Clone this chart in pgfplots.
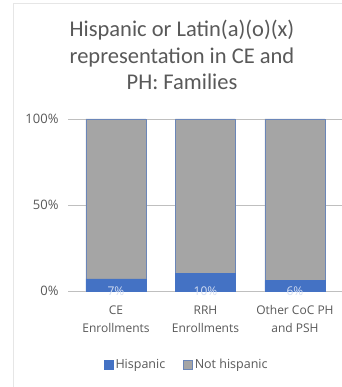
\documentclass[border=0pt]{standalone}
\usepackage{pgfplots}
\pgfplotsset{compat=1.18}
\usepackage{fontspec}
\setmainfont{Open Sans}
\newfontfamily\titlefont{Carlito}
\definecolor{hblue}{HTML}{4472C4}
\definecolor{hgray}{HTML}{A5A5A5}
\definecolor{txt}{HTML}{595959}
\definecolor{grid}{HTML}{D9D9D9}
\definecolor{frame}{HTML}{E6E6E6}
\definecolor{lbl}{HTML}{D4DEF2}
\begin{document}
\begin{tikzpicture}
\fill[white] (0,0) rectangle (341pt,387pt);
\draw[frame, line width=0.8pt] (13pt,-5pt) rectangle (352pt,384pt);
\begin{scope}[every node/.style={font=\titlefont\fontsize{22.5}{26.5}\selectfont, text=txt, anchor=base, inner sep=0pt}]
\node at (182pt,350pt) {Hispanic or Latin(a)(o)(x)};
\node at (182pt,323.5pt) {representation in CE and};
\node at (182pt,297pt) {PH: Families};
\end{scope}
\begin{axis}[
  at={(68pt,96pt)}, anchor=south west,
  scale only axis, width=275pt, height=172pt,
  ybar stacked, bar width=60pt,
  xmin=-0.536, xmax=2.537, ymin=0, ymax=100,
  clip=false,
  axis line style={draw=none},
  ymajorgrids, grid style={grid, line width=0.6pt},
  ytick={0,50,100}, yticklabels={0\%,50\%,100\%},
  xtick={0,1,2},
  xticklabels={CE\\Enrollments, RRH\\Enrollments, Other CoC PH\\and PSH},
  major tick length=0pt,
  /pgf/number format/assume math mode=true,
  tick label style={font=\fontsize{12}{18}\selectfont, text=txt},
  xticklabel style={align=center, yshift=-11pt},
  yticklabel style={xshift=-6pt, font=\fontsize{13}{15}\selectfont},
  legend columns=2,
  legend style={at={(0.432,-0.43)}, anchor=center, draw=none, fill=none,
    font=\fontsize{12.5}{14}\selectfont, text=txt,
    /tikz/every even column/.append style={column sep=16pt}},
  legend image code/.code={\draw[#1, line width=0.5pt] (0pt,-4.5pt) rectangle (9pt,4.5pt);},
]
\addplot[fill=hblue, draw=hblue, line width=0.75pt,
  visualization depends on=rawy \as \rawy,
  nodes near coords={\pgfmathprintnumber{\pgfplotspointmeta}\%},
  every node near coord/.append style={text=lbl, font=\fontsize{12}{14}\selectfont, anchor=center, yshift={-0.86pt*\rawy}}]
  coordinates {(0,7) (1,10) (2,6)};
\addlegendentry{Hispanic}
\addplot[fill=hgray, draw=hblue!60!hgray, line width=0.75pt]
  coordinates {(0,93) (1,90) (2,94)};
\addlegendentry{Not hispanic}
\end{axis}
\pgfresetboundingbox
\path[use as bounding box] (0,0) rectangle (341pt,387pt);
\end{tikzpicture}
\end{document}
